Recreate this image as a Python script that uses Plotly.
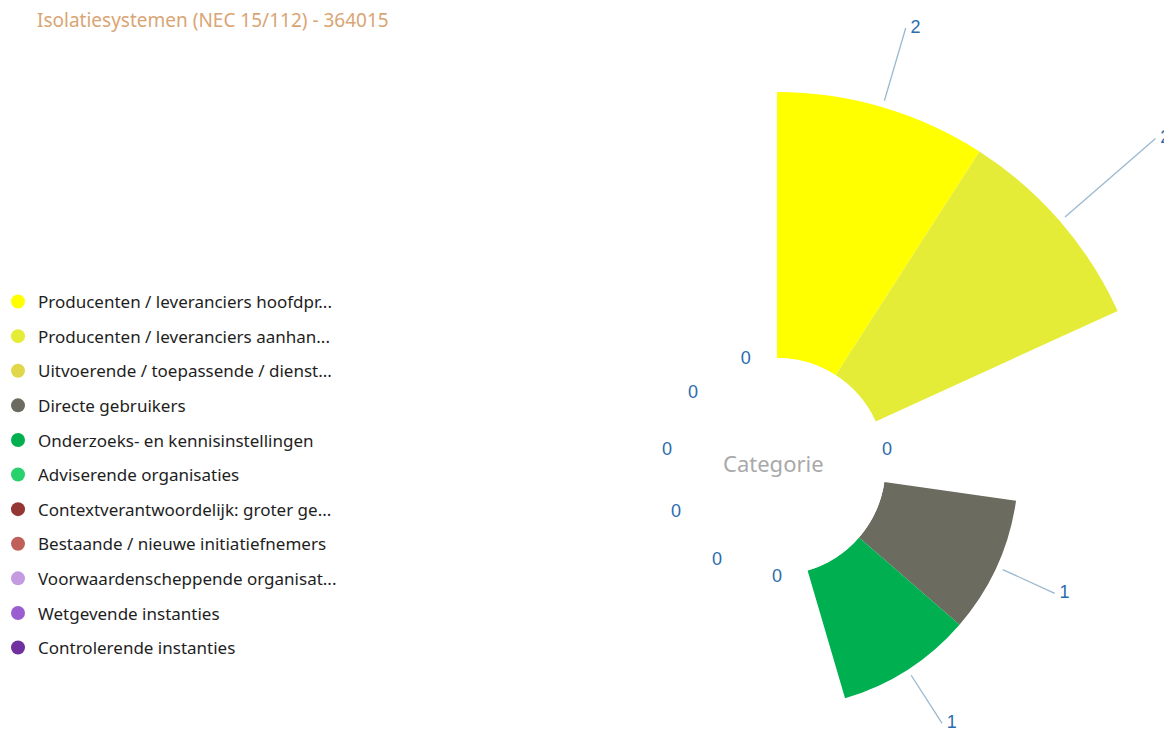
import math
import plotly.graph_objects as go

# ---------------- data ----------------
title_text = "Isolatiesystemen (NEC 15/112) - 364015"
center_label = "Categorie"
categories = [
    "Producenten / leveranciers hoofdpr...",
    "Producenten / leveranciers aanhan...",
    "Uitvoerende / toepassende / dienst...",
    "Directe gebruikers",
    "Onderzoeks- en kennisinstellingen",
    "Adviserende organisaties",
    "Contextverantwoordelijk: groter ge...",
    "Bestaande / nieuwe initiatiefnemers",
    "Voorwaardenscheppende organisat...",
    "Wetgevende instanties",
    "Controlerende instanties",
]
values = [2, 2, 0, 1, 1, 0, 0, 0, 0, 0, 0]
colors = ["#ffff00", "#e4ec38", "#e0d84a", "#6b6b60", "#00b050", "#27d16e",
          "#943634", "#c0605a", "#c49be0", "#9b5ed0", "#7030a0"]

# ---------------- style ----------------
W, H = 1300, 980
LABEL_FONT = "Liberation Sans"
TEXT_FONT = "Noto Sans"
LEADER_COLOR = "#9ab8cf"
LABEL_COLOR = "#2b6cad"
LEADER_GAP = 0.05                      # gap between bar end and leader start (data units)
LEADER_LEN = {0: 0.62, 1: 0.95}        # leader extension per category (others: default)
LEADER_DEFAULT = 0.48
ZERO_LABEL_R = 0.02
# leaders pointing to the right are drawn on a wider sector subplot
WIDE_SUBPLOT = {1, 3, 4}

# geometry (pixels in figure coordinates)
CX, CY = 769.0, 458.5     # centre of the rose
R1 = 458.5                # radius of main subplot
HOLE_PX = 108.5
PX_PER_UNIT = 133.0
R2 = 520.0                # radius of the label sector subplot
SECTOR2 = [-80, 60]

s_top = math.sin(math.radians(SECTOR2[1]))
s_bot = -math.sin(math.radians(SECTOR2[0]))

dom1 = dict(x=[(CX - R1) / W, (CX + R1) / W], y=[1 - (CY + R1) / H, 1 - (CY - R1) / H])
dom2 = dict(x=[CX / W, (CX + R2) / W], y=[1 - (CY + R2 * s_bot) / H, 1 - (CY - R2 * s_top) / H])

fig = go.Figure()

for i, (cat, val, col) in enumerate(zip(categories, values, colors)):
    fig.add_trace(go.Barpolar(
        r=[val], theta=[cat], name=cat, legendgroup=cat, showlegend=False,
        marker=dict(color=col, line=dict(width=0)),
        hovertemplate="%{theta}: %{r}<extra></extra>",
    ))
    fig.add_trace(go.Scatterpolar(
        r=[None], theta=[None], mode="markers", name=cat, legendgroup=cat,
        marker=dict(color=col, size=14, symbol="circle"),
        showlegend=True, hoverinfo="skip",
    ))

# hidden trace so that the sector subplot knows every category
fig.add_trace(go.Scatterpolar(
    r=[0] * len(categories), theta=categories, mode="markers", subplot="polar2",
    marker=dict(size=1, opacity=0), showlegend=False, hoverinfo="skip",
))

lab = {"polar": ([], [], [], []), "polar2": ([], [], [], [])}
for i, (cat, val) in enumerate(zip(categories, values)):
    if val > 0:
        ext = LEADER_LEN.get(i, LEADER_DEFAULT)
        sp = "polar2" if i in WIDE_SUBPLOT else "polar"
        fig.add_trace(go.Scatterpolar(
            r=[val + LEADER_GAP, val + ext], theta=[cat, cat], mode="lines",
            subplot=sp, line=dict(color=LEADER_COLOR, width=1.3),
            showlegend=False, hoverinfo="skip", cliponaxis=False,
        ))
        L = lab[sp]
        L[0].append(val + ext); L[1].append(cat); L[2].append(str(val)); L[3].append("middle right")
    else:
        L = lab["polar"]
        L[0].append(ZERO_LABEL_R); L[1].append(cat); L[2].append(str(val)); L[3].append("middle center")

for sp, (rr, tt, tx, pos) in lab.items():
    fig.add_trace(go.Scatterpolar(
        r=rr, theta=tt, mode="markers+text", text=tx, textposition=pos, subplot=sp,
        marker=dict(size=6, opacity=0),
        textfont=dict(family=LABEL_FONT, size=18, color=LABEL_COLOR),
        showlegend=False, hoverinfo="skip", cliponaxis=False,
    ))

common_ang = dict(visible=False, direction="clockwise", rotation=90 - 180 / len(categories),
                  type="category", categoryorder="array", categoryarray=categories,
                  period=len(categories), showgrid=False, showline=False,
                  showticklabels=False, ticks="")

fig.update_layout(
    width=W, height=H,
    margin=dict(l=0, r=0, t=0, b=0, autoexpand=False),
    template="none",
    paper_bgcolor="white",
    polar=dict(
        domain=dom1, hole=HOLE_PX / R1, bargap=0, bgcolor="rgba(0,0,0,0)",
        radialaxis=dict(range=[0, (R1 - HOLE_PX) / PX_PER_UNIT], visible=False,
                        showgrid=False, showline=False, showticklabels=False, ticks=""),
        angularaxis=common_ang,
    ),
    polar2=dict(
        domain=dom2, sector=SECTOR2, hole=HOLE_PX / R2, bargap=0, bgcolor="rgba(0,0,0,0)",
        radialaxis=dict(range=[0, (R2 - HOLE_PX) / PX_PER_UNIT], visible=False,
                        showgrid=False, showline=False, showticklabels=False, ticks=""),
        angularaxis=common_ang,
    ),
    showlegend=True,
    legend=dict(
        x=-10 / W, y=1 - 276 / H, xanchor="left", yanchor="top",
        font=dict(family=TEXT_FONT, size=17, color="#1e1e1e"),
        tracegroupgap=9.5, traceorder="grouped",
        bgcolor="rgba(0,0,0,0)",
    ),
    title=dict(
        text=title_text, xref="container", yref="container",
        x=29 / W, y=1 - 12 / H, xanchor="left", yanchor="middle",
        font=dict(family=TEXT_FONT, size=19, color="#d9a574"),
    ),
    annotations=[dict(
        text=center_label, xref="paper", yref="paper",
        x=765 / W, y=1 - 455 / H, showarrow=False,
        font=dict(family=TEXT_FONT, size=22, color="#a9a9a9"),
    )],
)

fig.write_html("out.html")
